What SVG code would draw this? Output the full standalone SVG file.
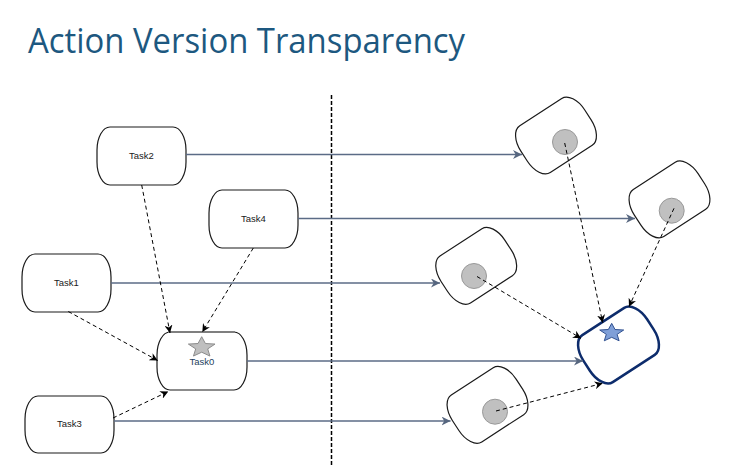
<svg xmlns="http://www.w3.org/2000/svg" width="731" height="466" viewBox="0 0 731 466">
  <style>
    .box { fill: #ffffff; stroke: #1a1a1a; stroke-width: 1.2; }
    .lbl { font-family: "Liberation Sans", Arial, sans-serif; font-size: 9.5px; fill: #1a1a1a; text-anchor: middle; dominant-baseline: middle; }
    .dot { fill: #c0c0c0; stroke: #999999; stroke-width: 1; }
    .flow { fill: none; stroke: #5b6b86; stroke-width: 1.3; marker-end: url(#ahFlow); }
    .dep { fill: none; stroke: #000000; stroke-width: 1; stroke-dasharray: 4 3; marker-end: url(#ahDep); }
  </style>
  <defs>
    <marker id="ahFlow" viewBox="0 0 10 10" refX="10" refY="5" markerWidth="9" markerHeight="9" markerUnits="userSpaceOnUse" orient="auto">
      <path d="M0,0 L10,5 L0,10 L3,5 z" fill="#56667f"/>
    </marker>
    <marker id="ahDep" viewBox="0 0 10 10" refX="10" refY="5" markerWidth="8" markerHeight="8" markerUnits="userSpaceOnUse" orient="auto">
      <path d="M0,0 L10,5 L0,10 L3,5 z" fill="#000000"/>
    </marker>
    <rect id="rshape" x="-38" y="-28" width="76" height="56" rx="13" ry="22"/>
    <polygon id="star" points="0,-10.7 3.7,-3.88 13.32,-3.31 5.99,1.48 8.23,8.66 0,4.8 -8.23,8.66 -5.99,1.48 -13.32,-3.31 -3.7,-3.88"/>
  </defs>

  <rect width="731" height="466" fill="#ffffff"/>

  <text x="28" y="53" font-family="Open Sans, Noto Sans, sans-serif" font-size="34" fill="#1d5880" textLength="437" lengthAdjust="spacingAndGlyphs">Action Version Transparency</text>

  <line id="divider" x1="331.5" y1="95" x2="331.5" y2="466" stroke="#000000" stroke-width="1.5" stroke-dasharray="4 2"/>

  <g id="task2">
    <rect class="box" x="97" y="127" width="89" height="58" rx="13" ry="23"/>
    <text class="lbl" x="141.5" y="156.5">Task2</text>
  </g>
  <g id="task4">
    <rect class="box" x="209" y="190" width="89" height="58" rx="13" ry="23"/>
    <text class="lbl" x="253.5" y="219.5">Task4</text>
  </g>
  <g id="task1">
    <rect class="box" x="22" y="254" width="89" height="58" rx="13" ry="23"/>
    <text class="lbl" x="66.5" y="283.5">Task1</text>
  </g>
  <g id="task0">
    <rect class="box" x="157" y="332" width="90" height="58" rx="13" ry="23"/>
    <line x1="168" y1="332" x2="235" y2="332" stroke="#7f7f7f" stroke-width="2"/>
    <use href="#star" transform="translate(201.7,347.4)" fill="#bfbfbf" stroke="#8c8c8c" stroke-width="1"/>
    <text class="lbl" x="202" y="362.5" fill="#243f60" style="fill:#243f60">Task0</text>
  </g>
  <g id="task3">
    <rect class="box" x="25" y="396" width="89" height="57" rx="13" ry="23"/>
    <text class="lbl" x="69.5" y="424.5">Task3</text>
  </g>

  <g id="ver2">
    <use href="#rshape" class="box" transform="translate(556,135.5) rotate(-33)"/>
    <circle class="dot" cx="565" cy="142" r="12.5"/>
  </g>
  <g id="ver4">
    <use href="#rshape" class="box" transform="translate(669.5,199.4) rotate(-33)"/>
    <circle class="dot" cx="671.7" cy="210.7" r="12.5"/>
  </g>
  <g id="ver1">
    <use href="#rshape" class="box" transform="translate(476.2,265.8) rotate(-33)"/>
    <circle class="dot" cx="474" cy="276" r="12.5"/>
  </g>
  <g id="ver3">
    <use href="#rshape" class="box" transform="translate(487.5,404.8) rotate(-33)"/>
    <circle class="dot" cx="495" cy="411.7" r="12.5"/>
  </g>
  <g id="ver0">
    <use href="#rshape" transform="translate(618.5,345) rotate(-33)" fill="#ffffff" stroke="#0d2c6c" stroke-width="2.5"/>
    <use href="#star" transform="translate(611.7,333) scale(0.9)" fill="#7f9fd8" stroke="#2f4f8f" stroke-width="1.1"/>
  </g>

  <g id="connectors">
    <line class="flow" x1="186" y1="154.5" x2="522" y2="154.5"/>
    <line class="flow" x1="298" y1="218.5" x2="635" y2="218.5"/>
    <line class="flow" x1="111" y1="283" x2="440" y2="283"/>
    <line class="flow" x1="247" y1="361" x2="583" y2="361"/>
    <line class="flow" x1="114" y1="421" x2="450.5" y2="421"/>

    <line class="dep" x1="141.7" y1="185" x2="170" y2="333"/>
    <line class="dep" x1="253.3" y1="248" x2="202.3" y2="332"/>
    <line class="dep" x1="68.3" y1="311.5" x2="157.7" y2="360.5"/>
    <line class="dep" x1="113" y1="418" x2="168.3" y2="391.5"/>

    <line class="dep" x1="564.7" y1="143" x2="602.7" y2="322.7"/>
    <line class="dep" x1="674" y1="208.3" x2="629" y2="306.7"/>
    <line class="dep" x1="477" y1="276.5" x2="581" y2="338.3"/>
    <line class="dep" x1="496" y1="411" x2="602.7" y2="383.3"/>
  </g>
</svg>
